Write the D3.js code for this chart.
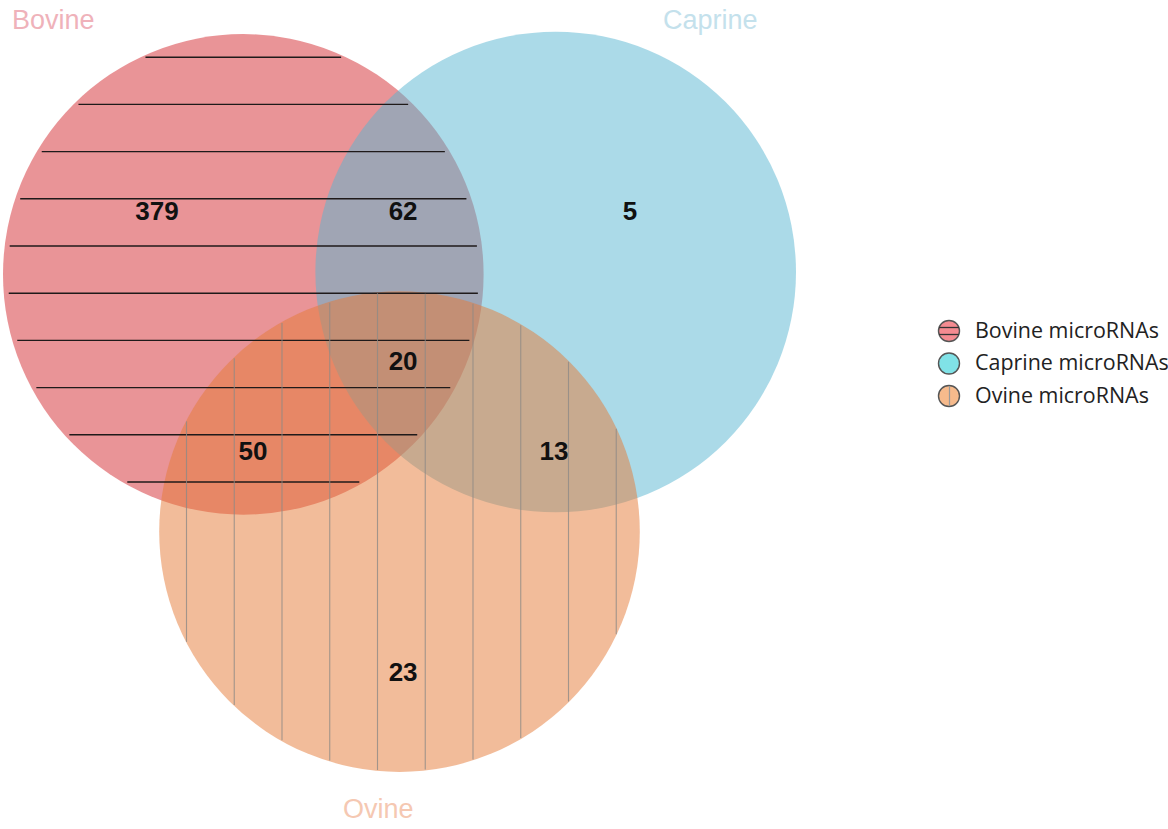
<!DOCTYPE html>
<html><head><meta charset="utf-8">
<script src="https://cdn.jsdelivr.net/npm/d3@7"></script>
<style>body{margin:0;background:#fff} svg{display:block}</style>
</head><body>
<svg id="chart" width="1168" height="829"></svg>
<script>
// ---- data ----
const sets = ["Bovine", "Caprine", "Ovine"];
const setColors = ["#d3292f", "#57b5d1", "#e57935"];
const titleColors = ["#efb2ba", "#c4e1ec", "#f5c8b2"];
const legendLabels = ["Bovine microRNAs", "Caprine microRNAs", "Ovine microRNAs"];
const legendColors = ["#f48b91", "#80e2e7", "#f6ba8c"];
const regionKeys = ["Bovine", "Bovine∩Caprine", "Caprine", "All three", "Bovine∩Ovine", "Caprine∩Ovine", "Ovine"];
const regionValues = [379, 62, 5, 20, 50, 13, 23];

// ---- layout (venn units, radius = 1) ----
const circleCenters = [[0, 0], [1.3, -0.01], [0.65, 1.07]];
const labelUnits = [[-0.359, -0.264], [0.665, -0.264], [1.609, -0.264], [0.665, 0.36], [0.04, 0.735], [1.293, 0.735], [0.665, 1.654]];

const svg = d3.select("#chart");
const x = d3.scaleLinear().domain([-1, 2.3]).range([3, 796]);
const y = d3.scaleLinear().domain([-1, 2.07]).range([34, 772]);
const R = x(1) - x(0);

const circles = sets.map((s, i) => ({name: s, cx: x(circleCenters[i][0]), cy: y(circleCenters[i][1]), r: R, color: setColors[i]}));

svg.append("g").selectAll("circle").data(circles).join("circle")
  .attr("cx", d => d.cx).attr("cy", d => d.cy).attr("r", d => d.r)
  .attr("fill", d => d.color).attr("fill-opacity", 0.5);

// hatch lines: horizontal on Bovine, vertical on Ovine
const hSp = 47.2, vSp = 47.75;
const B = circles[0], O = circles[2];
const hLines = [];
for (let yy = 57.2; yy < B.cy + B.r; yy += hSp) {
  const dy = yy - B.cy; const h = Math.sqrt(Math.max(0, B.r * B.r - dy * dy)) - 5;
  if (h > 0) hLines.push({x1: B.cx - h, x2: B.cx + h, y: yy});
}
const vLines = [];
for (let xx = 186.5; xx < O.cx + O.r; xx += vSp) {
  const dx = xx - O.cx; const h = Math.sqrt(Math.max(0, O.r * O.r - dx * dx)) - 1;
  if (h > 0) vLines.push({x: xx, y1: O.cy - h, y2: O.cy + h});
}
svg.append("g").selectAll("line").data(hLines).join("line")
  .attr("x1", d => d.x1).attr("x2", d => d.x2).attr("y1", d => d.y).attr("y2", d => d.y)
  .attr("stroke", "#1f1a1a").attr("stroke-width", 1.4);
svg.append("g").selectAll("line").data(vLines).join("line")
  .attr("x1", d => d.x).attr("x2", d => d.x).attr("y1", d => d.y1).attr("y2", d => d.y2)
  .attr("stroke", "#8f8a86").attr("stroke-opacity", 0.8).attr("stroke-width", 1.1);

// region values
svg.append("g").selectAll("text").data(regionValues).join("text")
  .attr("x", (d, i) => x(labelUnits[i][0])).attr("y", (d, i) => y(labelUnits[i][1]))
  .attr("dy", "0.36em").attr("text-anchor", "middle")
  .attr("font-family", "Liberation Sans, Arial, sans-serif").attr("font-weight", "bold")
  .attr("font-size", 26).attr("fill", "#111")
  .text(d => d);

// set titles
const titlePos = [[12, 29], [663, 29], [343, 818]];
svg.append("g").selectAll("text").data(sets).join("text")
  .attr("x", (d, i) => titlePos[i][0]).attr("y", (d, i) => titlePos[i][1])
  .attr("font-family", "Liberation Sans, Arial, sans-serif").attr("font-size", 27)
  .attr("fill", (d, i) => titleColors[i]).text(d => d);

// legend
const lg = svg.append("g").attr("transform", "translate(949,331)");
const items = lg.selectAll("g").data(legendLabels).join("g")
  .attr("transform", (d, i) => `translate(0,${i * 32.5})`);
items.append("circle").attr("r", 10.5).attr("fill", (d, i) => legendColors[i])
  .attr("stroke", "#555").attr("stroke-width", 1.4);
items.filter((d, i) => i === 0).each(function () {
  const g = d3.select(this);
  [-3.5, 3.5].forEach(o => g.append("line").attr("x1", -Math.sqrt(110 - o * o)).attr("x2", Math.sqrt(110 - o * o))
    .attr("y1", o).attr("y2", o).attr("stroke", "#333").attr("stroke-width", 1.3));
});
items.filter((d, i) => i === 2).append("line").attr("x1", 0.5).attr("x2", 0.5).attr("y1", -10).attr("y2", 10)
  .attr("stroke", "#999").attr("stroke-width", 1.2);
const lt = items.append("text").attr("x", 26).attr("y", -1).attr("dy", "0.36em")
  .attr("font-family", "Open Sans, Noto Sans, sans-serif").attr("font-size", 18)
  .attr("fill", "#222").text(d => d);
const w0 = lt.nodes()[0].getComputedTextLength();
lt.attr("font-size", 18 * 184 / w0);
</script>
</body></html>
